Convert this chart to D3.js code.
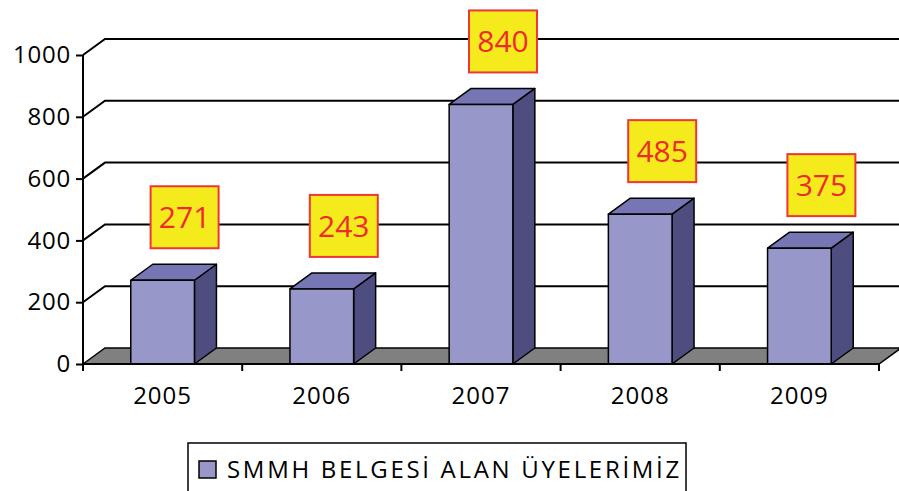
<!DOCTYPE html>
<html lang="tr">
<head>
<meta charset="UTF-8" />
<title>SMMH Belgesi Alan Üyelerimiz</title>
<script src="https://d3js.org/d3.v7.min.js"></script>
<style>
  body { margin: 0; background: #fff; }
  svg { display: block; font-family: "Open Sans", sans-serif; }
</style>
</head>
<body>
<div id="chart"></div>
<script>
  const years = ["2005", "2006", "2007", "2008", "2009"];
  const members = [271, 243, 840, 485, 375];
  const yTicks = [0, 200, 400, 600, 800, 1000];
  const legendLabel = "SMMH BELGESİ ALAN ÜYELERİMİZ";

  const width = 899, height = 491;
  const depthX = 22, depthY = -16;   // 3d offset of the back wall

  const svg = d3.select("#chart").append("svg")
    .attr("width", width).attr("height", height);

  const x = d3.scaleBand().domain(years).range([83, 879]);
  const y = d3.scaleLinear().domain([0, 1000]).range([364, 55]);
  const barW = x.bandwidth() * 0.4;

  // back wall grid lines
  const grid = svg.append("g").attr("stroke", "#000").attr("stroke-width", 2).attr("fill", "none");
  yTicks.filter(d => d > 0).forEach(v => {
    grid.append("path")
      .attr("d", `M${x.range()[0]},${y(v)} l${depthX},${depthY} L${width + 5},${y(v) + depthY}`);
  });

  // floor
  const x0 = x.range()[0], x1 = x.range()[1];
  svg.append("path")
    .attr("d", `M${x0},${y(0)} L${x0 + depthX},${y(0) + depthY} L${x1 + depthX},${y(0) + depthY} L${x1},${y(0)} Z`)
    .attr("fill", "#808080").attr("stroke", "#000").attr("stroke-width", 1.5);

  // bars
  const bars = svg.append("g").selectAll("g")
    .data(years.map((c, i) => ({ c, v: members[i] })))
    .join("g")
    .attr("stroke", "#000").attr("stroke-width", 1.5).attr("stroke-linejoin", "round");

  bars.each(function (d) {
    const g = d3.select(this);
    const l = x(d.c) + (x.bandwidth() - barW) / 2, r = l + barW;
    const t = y(d.v), b = y(0);
    g.append("path")
      .attr("d", `M${r},${b} L${r + depthX},${b + depthY} L${r + depthX},${t + depthY} L${r},${t} Z`)
      .attr("fill", "#4d4d80");
    g.append("path")
      .attr("d", `M${l},${t} L${l + depthX},${t + depthY} L${r + depthX},${t + depthY} L${r},${t} Z`)
      .attr("fill", "#7676b5");
    g.append("rect")
      .attr("x", l).attr("y", t).attr("width", barW).attr("height", b - t)
      .attr("fill", "#9797ca");
  });

  // value labels
  const labels = svg.append("g").selectAll("g")
    .data(years.map((c, i) => ({ c, v: members[i] })))
    .join("g")
    .attr("transform", d => `translate(${x(d.c) + x.bandwidth() / 2 + depthX},${y(d.v) + depthY - 47})`);
  labels.append("rect")
    .attr("x", -34).attr("y", -31).attr("width", 68).attr("height", 62)
    .attr("fill", "#f4ea1c").attr("stroke", "#ee3636").attr("stroke-width", 2);
  labels.append("text")
    .attr("text-anchor", "middle").attr("dy", "0.36em")
    .attr("font-size", 30).attr("fill", "#ee2b2b")
    .text(d => d.v);

  // y axis
  const yAxis = svg.append("g")
    .attr("transform", `translate(${x0},0)`)
    .call(d3.axisLeft(y).tickValues(yTicks).tickFormat(d3.format("d")).tickSize(7).tickPadding(5));
  yAxis.select(".domain").attr("stroke", "#000").attr("stroke-width", 2)
    .attr("d", `M0,${y(1000)}V${y(0)}`);
  yAxis.selectAll(".tick line").attr("stroke-width", 2);
  yAxis.selectAll("text").attr("font-size", 24).attr("fill", "#000")
    .attr("letter-spacing", 0.8)
    .attr("font-family", "Open Sans, sans-serif");

  // x axis
  const xAxis = svg.append("g");
  xAxis.append("line")
    .attr("x1", x0).attr("x2", x1).attr("y1", y(0)).attr("y2", y(0))
    .attr("stroke", "#000").attr("stroke-width", 2);
  years.concat(["end"]).forEach((c, i) => {
    const px = i < years.length ? x(c) : x1;
    xAxis.append("line")
      .attr("x1", px).attr("x2", px).attr("y1", y(0)).attr("y2", y(0) + 7)
      .attr("stroke", "#000").attr("stroke-width", 2);
  });
  xAxis.selectAll("text").data(years).join("text")
    .attr("x", d => x(d) + x.bandwidth() / 2).attr("y", 404)
    .attr("text-anchor", "middle").attr("font-size", 24).attr("letter-spacing", 1)
    .text(d => d);

  // legend
  const legend = svg.append("g");
  legend.append("rect")
    .attr("x", 188).attr("y", 443).attr("width", 498).attr("height", 70)
    .attr("fill", "#fff").attr("stroke", "#000").attr("stroke-width", 1.5);
  legend.append("rect")
    .attr("x", 199).attr("y", 461).attr("width", 17).attr("height", 17)
    .attr("fill", "#9797ca").attr("stroke", "#000").attr("stroke-width", 1.5);
  legend.append("text")
    .attr("x", 227).attr("y", 478).attr("font-size", 24).attr("letter-spacing", 2.7)
    .text(legendLabel);
</script>
</body>
</html>
